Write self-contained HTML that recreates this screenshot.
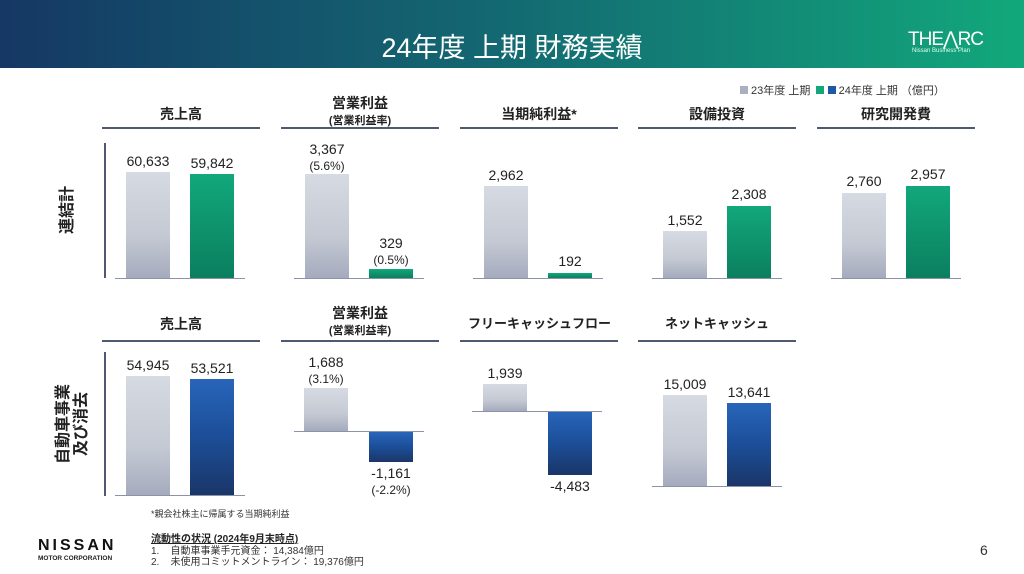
<!DOCTYPE html><html><head><meta charset="utf-8"><style>
*{margin:0;padding:0;box-sizing:border-box}
body{width:1024px;height:574px;position:relative;background:#fff;font-family:"Liberation Sans","Noto Sans CJK JP",sans-serif;color:#222;overflow:hidden}
.a{position:absolute}
.hd{left:0;top:0;width:1024px;height:68px;background:linear-gradient(90deg,#153864,#136a72 50%,#12a87b)}
.g{background:linear-gradient(#d6dae2,#c4c9d3 60%,#a5abbd)}
.gr{background:linear-gradient(#12a87b,#0b7f5f)}
.b{background:linear-gradient(#2865ba,#1c4e98 50%,#1a3668)}
.ln{height:2px;background:#4f5a72}
.ax{height:1px;background:#8a93a8}
.v{font-size:14px;line-height:16px;text-align:center;width:80px;color:#222}
.t{font-size:14px;line-height:16px;font-weight:bold;text-align:center;width:158px;color:#222}
.s{font-size:11px;line-height:13px}
.rl{font-size:16px;font-weight:bold;transform:rotate(-90deg);transform-origin:center;text-align:center;line-height:18px;white-space:nowrap}
</style></head><body>
<div class="a hd"></div>
<div class="a" style="left:0;top:26px;width:1024px;text-align:center;color:#fff;font-size:27px">24年度 上期 財務実績</div>
<div class="a" style="left:908px;top:28px;color:#fff;font-size:19px;letter-spacing:-1px">THE⋀RC</div>
<div class="a" style="left:912px;top:48px;color:#dfe;font-size:6px">Nissan Business Plan</div>
<div class="a" style="left:740px;top:82px;font-size:11px;color:#333"><span style="display:inline-block;width:8px;height:8px;background:#aab0bf"></span> 23年度 上期 &nbsp;<span style="display:inline-block;width:8px;height:8px;background:#12a87b"></span> <span style="display:inline-block;width:8px;height:8px;background:#2058a8"></span> 24年度 上期 （億円）</div>

<div class="a t" style="left:102px;top:106px">売上高</div>
<div class="a t" style="left:281px;top:95px">営業利益<br><span class="s">(営業利益率)</span></div>
<div class="a t" style="left:460px;top:106px">当期純利益*</div>
<div class="a t" style="left:638px;top:106px">設備投資</div>
<div class="a t" style="left:817px;top:106px">研究開発費</div>
<div class="a ln" style="left:102px;top:127px;width:158px"></div>
<div class="a ln" style="left:281px;top:127px;width:158px"></div>
<div class="a ln" style="left:460px;top:127px;width:158px"></div>
<div class="a ln" style="left:638px;top:127px;width:158px"></div>
<div class="a ln" style="left:817px;top:127px;width:158px"></div>

<div class="a" style="left:104px;top:143px;width:2px;height:135px;background:#4f5a72"></div>
<div class="a rl" style="left:38px;top:201px;width:60px">連結計</div>

<div class="a ax" style="left:115px;top:278px;width:130px"></div>
<div class="a g" style="left:126px;top:172px;width:44px;height:106px"></div>
<div class="a gr" style="left:190px;top:174px;width:44px;height:104px"></div>
<div class="a v" style="left:108px;top:153px">60,633</div>
<div class="a v" style="left:172px;top:155px">59,842</div>

<div class="a ax" style="left:294px;top:278px;width:130px"></div>
<div class="a g" style="left:305px;top:174px;width:44px;height:104px"></div>
<div class="a gr" style="left:369px;top:269px;width:44px;height:9px"></div>
<div class="a v" style="left:287px;top:141px">3,367<br><span style="font-size:12px">(5.6%)</span></div>
<div class="a v" style="left:351px;top:235px">329<br><span style="font-size:12px">(0.5%)</span></div>

<div class="a ax" style="left:473px;top:278px;width:130px"></div>
<div class="a g" style="left:484px;top:186px;width:44px;height:92px"></div>
<div class="a gr" style="left:548px;top:273px;width:44px;height:5px"></div>
<div class="a v" style="left:466px;top:167px">2,962</div>
<div class="a v" style="left:530px;top:253px">192</div>

<div class="a ax" style="left:652px;top:278px;width:130px"></div>
<div class="a g" style="left:663px;top:231px;width:44px;height:47px"></div>
<div class="a gr" style="left:727px;top:206px;width:44px;height:72px"></div>
<div class="a v" style="left:645px;top:212px">1,552</div>
<div class="a v" style="left:709px;top:186px">2,308</div>

<div class="a ax" style="left:831px;top:278px;width:130px"></div>
<div class="a g" style="left:842px;top:193px;width:44px;height:85px"></div>
<div class="a gr" style="left:906px;top:186px;width:44px;height:92px"></div>
<div class="a v" style="left:824px;top:173px">2,760</div>
<div class="a v" style="left:888px;top:166px">2,957</div>

<div class="a t" style="left:102px;top:316px">売上高</div>
<div class="a t" style="left:281px;top:305px">営業利益<br><span class="s">(営業利益率)</span></div>
<div class="a t" style="left:452px;top:316px;width:175px;font-size:13px">フリーキャッシュフロー</div>
<div class="a t" style="left:638px;top:316px;font-size:13px">ネットキャッシュ</div>
<div class="a ln" style="left:102px;top:340px;width:158px"></div>
<div class="a ln" style="left:281px;top:340px;width:158px"></div>
<div class="a ln" style="left:460px;top:340px;width:158px"></div>
<div class="a ln" style="left:638px;top:340px;width:158px"></div>

<div class="a" style="left:104px;top:352px;width:2px;height:144px;background:#4f5a72"></div>
<div class="a rl" style="left:28px;top:406px;width:90px">自動車事業<br>及び消去</div>

<div class="a ax" style="left:115px;top:495px;width:130px"></div>
<div class="a g" style="left:126px;top:376px;width:44px;height:119px"></div>
<div class="a b" style="left:190px;top:379px;width:44px;height:116px"></div>
<div class="a v" style="left:108px;top:357px">54,945</div>
<div class="a v" style="left:172px;top:360px">53,521</div>

<div class="a ax" style="left:294px;top:431px;width:130px"></div>
<div class="a g" style="left:304px;top:388px;width:44px;height:43px"></div>
<div class="a b" style="left:369px;top:432px;width:44px;height:30px"></div>
<div class="a v" style="left:286px;top:354px">1,688<br><span style="font-size:12px">(3.1%)</span></div>
<div class="a v" style="left:351px;top:465px">-1,161<br><span style="font-size:12px">(-2.2%)</span></div>

<div class="a ax" style="left:472px;top:411px;width:130px"></div>
<div class="a g" style="left:483px;top:384px;width:44px;height:27px"></div>
<div class="a b" style="left:548px;top:412px;width:44px;height:63px"></div>
<div class="a v" style="left:465px;top:365px">1,939</div>
<div class="a v" style="left:530px;top:478px">-4,483</div>

<div class="a ax" style="left:652px;top:486px;width:130px"></div>
<div class="a g" style="left:663px;top:395px;width:44px;height:91px"></div>
<div class="a b" style="left:727px;top:403px;width:44px;height:83px"></div>
<div class="a v" style="left:645px;top:376px">15,009</div>
<div class="a v" style="left:709px;top:384px">13,641</div>

<div class="a" style="left:151px;top:507px;font-size:9px;color:#333">*親会社株主に帰属する当期純利益</div>
<div class="a" style="left:151px;top:530px;font-size:10px;font-weight:bold;text-decoration:underline">流動性の状況 (2024年9月末時点)</div>
<div class="a" style="left:151px;top:546px;font-size:10px;color:#333;line-height:11px">1.&nbsp;&nbsp;&nbsp;&nbsp;自動車事業手元資金： 14,384億円<br>2.&nbsp;&nbsp;&nbsp;&nbsp;未使用コミットメントライン： 19,376億円</div>
<div class="a" style="left:38px;top:537px;font-size:16px;letter-spacing:3px;color:#111;font-weight:bold">NISSAN</div>
<div class="a" style="left:38px;top:555px;font-size:6.5px;font-weight:bold;color:#222">MOTOR CORPORATION</div>
<div class="a" style="left:980px;top:542px;font-size:14px;color:#333">6</div>
</body></html>
